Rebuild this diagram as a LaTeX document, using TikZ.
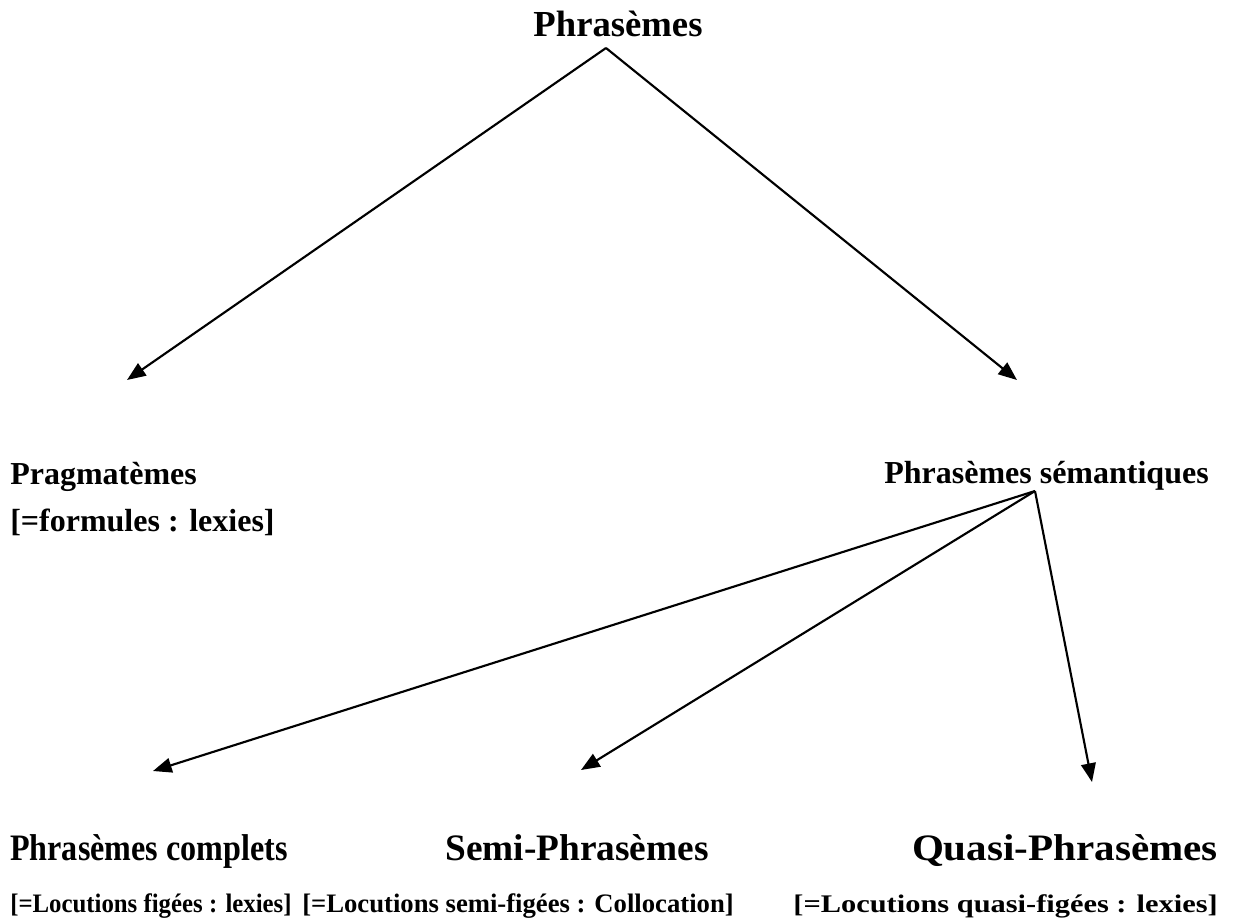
\documentclass[tikz,border=0pt]{standalone}
\usepackage{fontspec}
\setmainfont{Liberation Serif}
\usetikzlibrary{arrows.meta}
\begin{document}
\begin{tikzpicture}[x=0.75pt,y=-0.75pt,
  lbl/.style={inner sep=0pt,font=\bfseries},
  arr/.style={-{Triangle[length=14pt,width=11pt]},line width=1.6pt}]
\useasboundingbox (0,0) rectangle (1233,924);
% title
\node[lbl,anchor=base,font=\fontsize{27.5}{30}\bfseries] (root) at (618,37) {Phrasèmes};
\coordinate (apex) at (606,48);
\coordinate (tl) at (127,380);
\coordinate (tr) at (1017,380);
\draw[arr] (apex) -- (tl);
\draw[arr] (apex) -- (tr);
% second level
\node[lbl,anchor=base west,font=\fontsize{24}{28}\bfseries] (prag) at (10,484) {Pragmatèmes};
\node[lbl,anchor=base west,font=\fontsize{24}{28}\bfseries] (pragsub) at (10,531) {[=formules : lexies]};
\node[lbl,anchor=base east,font=\fontsize{24}{28}\bfseries] (sem) at (1209,483) {Phrasèmes sémantiques};
\coordinate (apex2) at (1035,491);
\coordinate (b1) at (153,771);
\coordinate (b2) at (581,770);
\coordinate (b3) at (1092,782);
\draw[arr] (apex2) -- (b1);
\draw[arr] (apex2) -- (b2);
\draw[arr] (apex2) -- (b3);
% third level
\node[lbl,anchor=base west,font=\fontsize{28}{32}\bfseries] (comp) at (10,860) {\scalebox{0.86}[1]{Phrasèmes complets}};
\node[lbl,anchor=base west,font=\fontsize{28}{32}\bfseries] (semi) at (445,860) {Semi-Phrasèmes};
\node[lbl,anchor=base east,font=\fontsize{28}{32}\bfseries] (quasi) at (1218,860) {\scalebox{1.1}[1]{Quasi-Phrasèmes}};
\node[lbl,anchor=base west,font=\fontsize{20}{22}\bfseries] (compsub) at (10,912) {\scalebox{0.93}[1]{[=Locutions figées : lexies]}};
\node[lbl,anchor=base west,font=\fontsize{20}{22}\bfseries] (semisub) at (302,912) {[=Locutions semi-figées : Collocation]};
\node[lbl,anchor=base east,font=\fontsize{19}{21}\bfseries] (quasisub) at (1218,912) {\scalebox{1.2}[1]{[=Locutions quasi-figées : lexies]}};
\end{tikzpicture}
\end{document}
